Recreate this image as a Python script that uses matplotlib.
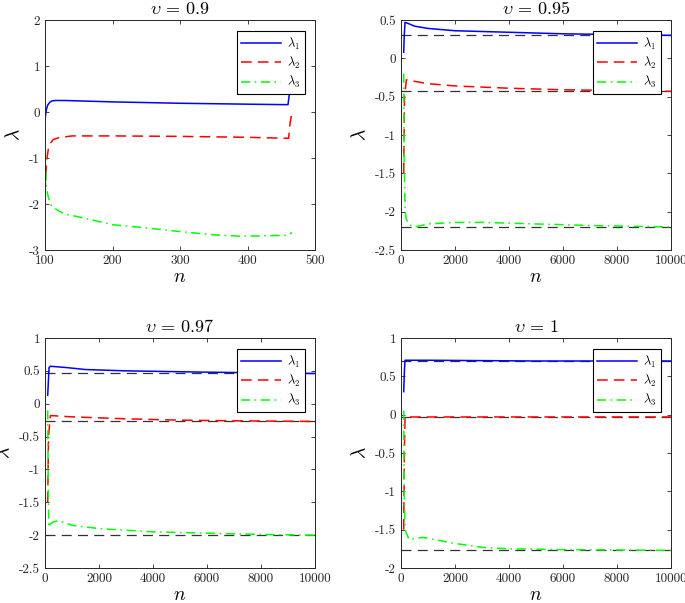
import numpy as np
from matplotlib import pyplot as plt

plt.rcParams['mathtext.fontset'] = 'cm'
plt.rcParams['font.family'] = 'serif'
plt.rcParams['font.serif'] = ['cmr10', 'DejaVu Serif']
plt.rcParams['axes.unicode_minus'] = False
plt.rcParams['axes.formatter.use_mathtext'] = True

### v = 0.9
n_a = [100, 101, 102, 104, 107, 110, 115, 130, 200, 300, 400, 455, 460, 463, 466]
l1_a = [-0.17, -0.05, 0.05, 0.15, 0.21, 0.24, 0.25, 0.25, 0.22, 0.19, 0.17, 0.16, 0.16, 0.5, 0.85]
n2_a = [100, 101, 103, 105, 108, 112, 120, 140, 200, 300, 400, 455, 461, 463, 466]
l2_a = [-1.76, -1.4, -1.0, -0.8, -0.68, -0.6, -0.56, -0.52, -0.52, -0.53, -0.55, -0.57, -0.57, -0.25, 0.0]
n3_a = [100, 101, 102, 104, 107, 110, 120, 130, 150, 200, 250, 300, 350, 390, 430, 460, 466]
l3_a = [-0.43, -1.2, -1.6, -1.8, -1.95, -2.05, -2.15, -2.22, -2.28, -2.45, -2.52, -2.6, -2.67, -2.7, -2.69, -2.68, -2.62]

### v = 0.95
n_b = [100, 120, 150, 300, 500, 1000, 2000, 3000, 4000, 6000, 8000, 10000]
l1_b = [0.08, 0.3, 0.47, 0.45, 0.42, 0.39, 0.36, 0.35, 0.34, 0.32, 0.31, 0.30]
n2_b = [100, 130, 200, 500, 1000, 2000, 4000, 6000, 8000, 10000]
l2_b = [-1.5, -0.5, -0.28, -0.3, -0.33, -0.36, -0.39, -0.41, -0.42, -0.43]
n3_b = [100, 120, 150, 200, 300, 500, 1000, 2000, 3000, 5000, 7000, 10000]
l3_b = [-0.2, -1.3, -2.0, -2.1, -2.17, -2.2, -2.16, -2.14, -2.14, -2.16, -2.18, -2.2]
ref_b = [0.30, -0.43, -2.2]

### v = 0.97
n_c = [100, 150, 200, 500, 800, 1500, 3000, 6000, 8000, 10000]
l1_c = [0.13, 0.55, 0.57, 0.56, 0.55, 0.52, 0.50, 0.48, 0.47, 0.46]
n2_c = [100, 130, 200, 1000, 3000, 5000, 7000, 10000]
l2_c = [-1.5, -0.5, -0.18, -0.2, -0.23, -0.25, -0.26, -0.27]
n3_c = [100, 120, 140, 200, 300, 500, 1000, 2000, 4000, 6000, 8000, 10000]
l3_c = [-0.1, -1.2, -1.88, -1.83, -1.8, -1.78, -1.85, -1.9, -1.95, -1.97, -1.99, -2.0]
ref_c = [0.47, -0.27, -2.0]

### v = 1
n_d = [100, 130, 150, 1000, 5000, 10000]
l1_d = [0.3, 0.6, 0.71, 0.71, 0.70, 0.70]
n2_d = [100, 130, 150, 1000, 5000, 10000]
l2_d = [-1.5, -0.4, -0.03, -0.03, -0.03, -0.03]
n3_d = [100, 120, 150, 300, 800, 2000, 3000, 4000, 6000, 10000]
l3_d = [0.05, -1.0, -1.5, -1.63, -1.6, -1.68, -1.73, -1.75, -1.76, -1.77]
ref_d = [0.70, -0.03, -1.77]

titles = ['$\\upsilon\\,=\\,0.9$', '$\\upsilon\\,=\\,0.95$', '$\\upsilon\\,=\\,0.97$', '$\\upsilon\\,=\\,1$']
xlims = [(100, 500), (0, 10000), (0, 10000), (0, 10000)]
xticks = [[100, 200, 300, 400, 500]] + [[0, 2000, 4000, 6000, 8000, 10000]] * 3
ylims = [(-3, 2), (-2.5, 0.5), (-2.5, 1), (-2, 1)]
yticks = [[-3, -2, -1, 0, 1, 2],
          [-2.5, -2, -1.5, -1, -0.5, 0, 0.5],
          [-2.5, -2, -1.5, -1, -0.5, 0, 0.5, 1],
          [-2, -1.5, -1, -0.5, 0, 0.5, 1]]

data = [
    (n_a, l1_a, n2_a, l2_a, n3_a, l3_a, None),
    (n_b, l1_b, n2_b, l2_b, n3_b, l3_b, ref_b),
    (n_c, l1_c, n2_c, l2_c, n3_c, l3_c, ref_c),
    (n_d, l1_d, n2_d, l2_d, n3_d, l3_d, ref_d),
]

W, H = 685, 603
boxes = [(45, 20), (401, 20), (45, 338), (401, 338)]
fig = plt.figure(figsize=(W / 100, H / 100), dpi=100)
ec = '0.15'

for i, (x1, y1, x2, y2, x3, y3, ref) in enumerate(data):
    left, top = boxes[i]
    ax = fig.add_axes([left / W, (H - top - 230) / H, 270 / W, 230 / H])
    if ref is not None:
        for r in ref:
            ax.plot(xlims[i], [r, r], color='0.2', ls=(0, (8, 5)), lw=0.9, zorder=1)
    ax.plot(x1, y1, color='b', lw=1.1, label='$\\lambda_1$', zorder=2)
    ax.plot(x2, y2, color='r', lw=1.1, ls=(0, (7, 4)), label='$\\lambda_2$', zorder=2)
    ax.plot(x3, y3, color='#00ff00', lw=1.1, ls=(0, (6, 3, 1, 3)), label='$\\lambda_3$', zorder=2)
    ax.set_xlim(xlims[i])
    ax.set_ylim(ylims[i])
    ax.set_xticks(xticks[i])
    ax.set_xticklabels([str(v) for v in xticks[i]])
    ax.set_yticks(yticks[i])
    ax.set_yticklabels([('%g' % v) for v in yticks[i]])
    ax.tick_params(direction='in', top=True, right=True, labelsize=9.5, colors=ec, length=3, width=0.6)
    for s in ax.spines.values():
        s.set_color(ec)
        s.set_linewidth(0.7)
    ax.set_title(titles[i], fontsize=13, pad=4)
    ax.set_xlabel('$n$', fontsize=14, labelpad=1)
    ax.set_ylabel('$\\lambda$', fontsize=14, labelpad=4)
    leg = ax.legend(loc='upper right', bbox_to_anchor=(0.962, 0.952), borderaxespad=0,
                    fontsize=9, handlelength=3.2, fancybox=False, framealpha=1,
                    edgecolor='k', borderpad=0.35, labelspacing=0.25, handletextpad=0.5)
    leg.get_frame().set_linewidth(0.8)
    leg.set_zorder(5)

plt.savefig('out.png', dpi=100)
